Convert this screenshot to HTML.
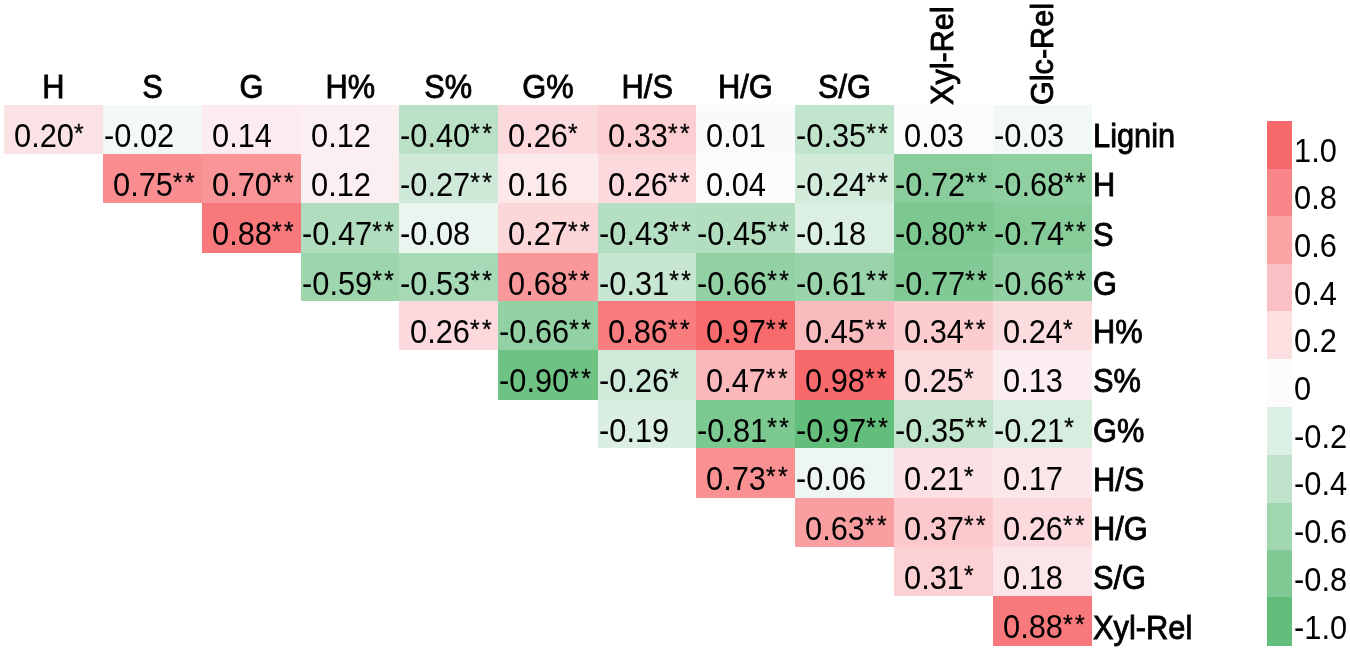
<!DOCTYPE html>
<html><head><meta charset="utf-8"><style>
html,body{margin:0;padding:0;background:#fff;}
body{width:1350px;height:650px;position:relative;overflow:hidden;font-family:"Liberation Sans",Arial,sans-serif;color:#000;}
.c{position:absolute;}
.t{position:absolute;font-size:32.50px;line-height:1;white-space:pre;transform-origin:0 0;transform:scaleX(0.9477);}
.a{font-size:0.8em;letter-spacing:2.53px;position:relative;top:-5.4px;-webkit-text-stroke:0.35px #000;}
.lb{position:absolute;font-size:32.50px;line-height:1;white-space:pre;-webkit-text-stroke:0.85px #000;transform-origin:0 0;transform:scaleX(0.9477);}
.rot{position:absolute;font-size:31.00px;line-height:1;white-space:pre;transform-origin:0 0;transform:rotate(-90deg) scaleX(0.9871);-webkit-text-stroke:0.85px #000;}
</style></head><body>

<div class="c" style="left:4.00px;top:105.00px;width:99.00px;height:49.00px;background:rgb(251,226,229)"></div>
<div class="c" style="left:103.00px;top:105.00px;width:99.00px;height:49.00px;background:rgb(244,249,248)"></div>
<div class="c" style="left:202.00px;top:105.00px;width:99.00px;height:49.00px;background:rgb(252,236,239)"></div>
<div class="c" style="left:301.00px;top:105.00px;width:98.00px;height:49.00px;background:rgb(252,239,242)"></div>
<div class="c" style="left:399.00px;top:105.00px;width:99.00px;height:49.00px;background:rgb(186,225,198)"></div>
<div class="c" style="left:498.00px;top:105.00px;width:100.00px;height:49.00px;background:rgb(251,217,220)"></div>
<div class="c" style="left:598.00px;top:105.00px;width:98.00px;height:49.00px;background:rgb(251,206,209)"></div>
<div class="c" style="left:696.00px;top:105.00px;width:99.00px;height:49.00px;background:rgb(248,250,252)"></div>
<div class="c" style="left:795.00px;top:105.00px;width:99.00px;height:49.00px;background:rgb(193,228,204)"></div>
<div class="c" style="left:894.00px;top:105.00px;width:99.00px;height:49.00px;background:rgb(251,252,254)"></div>
<div class="c" style="left:993.00px;top:105.00px;width:99.00px;height:49.00px;background:rgb(242,248,246)"></div>
<div class="c" style="left:103.00px;top:154.00px;width:99.00px;height:49.00px;background:rgb(249,141,143)"></div>
<div class="c" style="left:202.00px;top:154.00px;width:99.00px;height:49.00px;background:rgb(249,149,151)"></div>
<div class="c" style="left:301.00px;top:154.00px;width:98.00px;height:49.00px;background:rgb(252,239,242)"></div>
<div class="c" style="left:399.00px;top:154.00px;width:99.00px;height:49.00px;background:rgb(206,233,215)"></div>
<div class="c" style="left:498.00px;top:154.00px;width:100.00px;height:49.00px;background:rgb(251,233,235)"></div>
<div class="c" style="left:598.00px;top:154.00px;width:98.00px;height:49.00px;background:rgb(251,217,220)"></div>
<div class="c" style="left:696.00px;top:154.00px;width:99.00px;height:49.00px;background:rgb(252,251,254)"></div>
<div class="c" style="left:795.00px;top:154.00px;width:99.00px;height:49.00px;background:rgb(210,235,219)"></div>
<div class="c" style="left:894.00px;top:154.00px;width:99.00px;height:49.00px;background:rgb(137,205,156)"></div>
<div class="c" style="left:993.00px;top:154.00px;width:99.00px;height:49.00px;background:rgb(143,208,161)"></div>
<div class="c" style="left:202.00px;top:203.00px;width:99.00px;height:50.00px;background:rgb(248,121,123)"></div>
<div class="c" style="left:301.00px;top:203.00px;width:98.00px;height:50.00px;background:rgb(175,221,189)"></div>
<div class="c" style="left:399.00px;top:203.00px;width:99.00px;height:50.00px;background:rgb(234,245,240)"></div>
<div class="c" style="left:498.00px;top:203.00px;width:100.00px;height:50.00px;background:rgb(251,215,218)"></div>
<div class="c" style="left:598.00px;top:203.00px;width:98.00px;height:50.00px;background:rgb(181,223,194)"></div>
<div class="c" style="left:696.00px;top:203.00px;width:99.00px;height:50.00px;background:rgb(178,222,191)"></div>
<div class="c" style="left:795.00px;top:203.00px;width:99.00px;height:50.00px;background:rgb(219,239,227)"></div>
<div class="c" style="left:894.00px;top:203.00px;width:99.00px;height:50.00px;background:rgb(125,200,145)"></div>
<div class="c" style="left:993.00px;top:203.00px;width:99.00px;height:50.00px;background:rgb(134,204,153)"></div>
<div class="c" style="left:301.00px;top:253.00px;width:98.00px;height:48.00px;background:rgb(157,213,173)"></div>
<div class="c" style="left:399.00px;top:253.00px;width:99.00px;height:48.00px;background:rgb(166,217,181)"></div>
<div class="c" style="left:498.00px;top:253.00px;width:100.00px;height:48.00px;background:rgb(249,152,154)"></div>
<div class="c" style="left:598.00px;top:253.00px;width:98.00px;height:48.00px;background:rgb(199,231,210)"></div>
<div class="c" style="left:696.00px;top:253.00px;width:99.00px;height:48.00px;background:rgb(146,209,164)"></div>
<div class="c" style="left:795.00px;top:253.00px;width:99.00px;height:48.00px;background:rgb(154,212,170)"></div>
<div class="c" style="left:894.00px;top:253.00px;width:99.00px;height:48.00px;background:rgb(129,202,149)"></div>
<div class="c" style="left:993.00px;top:253.00px;width:99.00px;height:48.00px;background:rgb(146,209,164)"></div>
<div class="c" style="left:399.00px;top:301.00px;width:99.00px;height:49.00px;background:rgb(251,217,220)"></div>
<div class="c" style="left:498.00px;top:301.00px;width:100.00px;height:49.00px;background:rgb(146,209,164)"></div>
<div class="c" style="left:598.00px;top:301.00px;width:98.00px;height:49.00px;background:rgb(249,124,126)"></div>
<div class="c" style="left:696.00px;top:301.00px;width:99.00px;height:49.00px;background:rgb(248,107,109)"></div>
<div class="c" style="left:795.00px;top:301.00px;width:99.00px;height:49.00px;background:rgb(250,187,190)"></div>
<div class="c" style="left:894.00px;top:301.00px;width:99.00px;height:49.00px;background:rgb(251,205,207)"></div>
<div class="c" style="left:993.00px;top:301.00px;width:99.00px;height:49.00px;background:rgb(251,220,223)"></div>
<div class="c" style="left:498.00px;top:350.00px;width:100.00px;height:50.00px;background:rgb(110,194,132)"></div>
<div class="c" style="left:598.00px;top:350.00px;width:98.00px;height:50.00px;background:rgb(207,234,216)"></div>
<div class="c" style="left:696.00px;top:350.00px;width:99.00px;height:50.00px;background:rgb(250,184,187)"></div>
<div class="c" style="left:795.00px;top:350.00px;width:99.00px;height:50.00px;background:rgb(248,105,107)"></div>
<div class="c" style="left:894.00px;top:350.00px;width:99.00px;height:50.00px;background:rgb(251,219,221)"></div>
<div class="c" style="left:993.00px;top:350.00px;width:99.00px;height:50.00px;background:rgb(252,237,240)"></div>
<div class="c" style="left:598.00px;top:400.00px;width:98.00px;height:48.00px;background:rgb(218,238,225)"></div>
<div class="c" style="left:696.00px;top:400.00px;width:99.00px;height:48.00px;background:rgb(123,200,144)"></div>
<div class="c" style="left:795.00px;top:400.00px;width:99.00px;height:48.00px;background:rgb(99,190,123)"></div>
<div class="c" style="left:894.00px;top:400.00px;width:99.00px;height:48.00px;background:rgb(193,228,204)"></div>
<div class="c" style="left:993.00px;top:400.00px;width:99.00px;height:48.00px;background:rgb(215,237,223)"></div>
<div class="c" style="left:696.00px;top:448.00px;width:99.00px;height:50.00px;background:rgb(249,144,146)"></div>
<div class="c" style="left:795.00px;top:448.00px;width:99.00px;height:50.00px;background:rgb(238,246,243)"></div>
<div class="c" style="left:894.00px;top:448.00px;width:99.00px;height:50.00px;background:rgb(251,225,228)"></div>
<div class="c" style="left:993.00px;top:448.00px;width:99.00px;height:50.00px;background:rgb(251,231,234)"></div>
<div class="c" style="left:795.00px;top:498.00px;width:99.00px;height:49.00px;background:rgb(249,159,162)"></div>
<div class="c" style="left:894.00px;top:498.00px;width:99.00px;height:49.00px;background:rgb(251,200,203)"></div>
<div class="c" style="left:993.00px;top:498.00px;width:99.00px;height:49.00px;background:rgb(251,217,220)"></div>
<div class="c" style="left:894.00px;top:547.00px;width:99.00px;height:49.00px;background:rgb(251,209,212)"></div>
<div class="c" style="left:993.00px;top:547.00px;width:99.00px;height:49.00px;background:rgb(251,229,232)"></div>
<div class="c" style="left:993.00px;top:596.00px;width:99.00px;height:50.00px;background:rgb(248,121,123)"></div>
<div class="t" style="left:14.40px;top:120.14px">0.20<span class="a">*</span></div>
<div class="t" style="left:103.90px;top:120.14px">-0.02</div>
<div class="t" style="left:212.15px;top:120.14px">0.14</div>
<div class="t" style="left:311.05px;top:120.14px">0.12</div>
<div class="t" style="left:400.45px;top:120.14px">-0.40<span class="a">**</span></div>
<div class="t" style="left:508.05px;top:120.14px">0.26<span class="a">*</span></div>
<div class="t" style="left:607.80px;top:120.14px">0.33<span class="a">**</span></div>
<div class="t" style="left:706.35px;top:120.14px">0.01</div>
<div class="t" style="left:796.05px;top:120.14px">-0.35<span class="a">**</span></div>
<div class="t" style="left:904.25px;top:120.14px">0.03</div>
<div class="t" style="left:993.95px;top:120.14px">-0.03</div>
<div class="t" style="left:113.10px;top:169.09px">0.75<span class="a">**</span></div>
<div class="t" style="left:212.15px;top:169.09px">0.70<span class="a">**</span></div>
<div class="t" style="left:311.05px;top:169.09px">0.12</div>
<div class="t" style="left:400.45px;top:169.09px">-0.27<span class="a">**</span></div>
<div class="t" style="left:508.05px;top:169.09px">0.16</div>
<div class="t" style="left:607.80px;top:169.09px">0.26<span class="a">**</span></div>
<div class="t" style="left:706.35px;top:169.09px">0.04</div>
<div class="t" style="left:796.05px;top:169.09px">-0.24<span class="a">**</span></div>
<div class="t" style="left:895.05px;top:169.09px">-0.72<span class="a">**</span></div>
<div class="t" style="left:993.95px;top:169.09px">-0.68<span class="a">**</span></div>
<div class="t" style="left:212.15px;top:218.39px">0.88<span class="a">**</span></div>
<div class="t" style="left:301.85px;top:218.39px">-0.47<span class="a">**</span></div>
<div class="t" style="left:400.45px;top:218.39px">-0.08</div>
<div class="t" style="left:508.05px;top:218.39px">0.27<span class="a">**</span></div>
<div class="t" style="left:598.60px;top:218.39px">-0.43<span class="a">**</span></div>
<div class="t" style="left:697.15px;top:218.39px">-0.45<span class="a">**</span></div>
<div class="t" style="left:796.05px;top:218.39px">-0.18</div>
<div class="t" style="left:895.05px;top:218.39px">-0.80<span class="a">**</span></div>
<div class="t" style="left:993.95px;top:218.39px">-0.74<span class="a">**</span></div>
<div class="t" style="left:301.85px;top:267.59px">-0.59<span class="a">**</span></div>
<div class="t" style="left:400.45px;top:267.59px">-0.53<span class="a">**</span></div>
<div class="t" style="left:508.05px;top:267.59px">0.68<span class="a">**</span></div>
<div class="t" style="left:598.60px;top:267.59px">-0.31<span class="a">**</span></div>
<div class="t" style="left:697.15px;top:267.59px">-0.66<span class="a">**</span></div>
<div class="t" style="left:796.05px;top:267.59px">-0.61<span class="a">**</span></div>
<div class="t" style="left:895.05px;top:267.59px">-0.77<span class="a">**</span></div>
<div class="t" style="left:993.95px;top:267.59px">-0.66<span class="a">**</span></div>
<div class="t" style="left:409.65px;top:316.19px">0.26<span class="a">**</span></div>
<div class="t" style="left:498.85px;top:316.19px">-0.66<span class="a">**</span></div>
<div class="t" style="left:607.80px;top:316.19px">0.86<span class="a">**</span></div>
<div class="t" style="left:706.35px;top:316.19px">0.97<span class="a">**</span></div>
<div class="t" style="left:805.25px;top:316.19px">0.45<span class="a">**</span></div>
<div class="t" style="left:904.25px;top:316.19px">0.34<span class="a">**</span></div>
<div class="t" style="left:1003.15px;top:316.19px">0.24<span class="a">*</span></div>
<div class="t" style="left:498.85px;top:365.14px">-0.90<span class="a">**</span></div>
<div class="t" style="left:598.60px;top:365.14px">-0.26<span class="a">*</span></div>
<div class="t" style="left:706.35px;top:365.14px">0.47<span class="a">**</span></div>
<div class="t" style="left:805.25px;top:365.14px">0.98<span class="a">**</span></div>
<div class="t" style="left:904.25px;top:365.14px">0.25<span class="a">*</span></div>
<div class="t" style="left:1003.15px;top:365.14px">0.13</div>
<div class="t" style="left:598.60px;top:414.69px">-0.19</div>
<div class="t" style="left:697.15px;top:414.69px">-0.81<span class="a">**</span></div>
<div class="t" style="left:796.05px;top:414.69px">-0.97<span class="a">**</span></div>
<div class="t" style="left:895.05px;top:414.69px">-0.35<span class="a">**</span></div>
<div class="t" style="left:993.95px;top:414.69px">-0.21<span class="a">*</span></div>
<div class="t" style="left:706.35px;top:463.29px">0.73<span class="a">**</span></div>
<div class="t" style="left:796.05px;top:463.29px">-0.06</div>
<div class="t" style="left:904.25px;top:463.29px">0.21<span class="a">*</span></div>
<div class="t" style="left:1003.15px;top:463.29px">0.17</div>
<div class="t" style="left:805.25px;top:512.84px">0.63<span class="a">**</span></div>
<div class="t" style="left:904.25px;top:512.84px">0.37<span class="a">**</span></div>
<div class="t" style="left:1003.15px;top:512.84px">0.26<span class="a">**</span></div>
<div class="t" style="left:904.25px;top:562.09px">0.31<span class="a">*</span></div>
<div class="t" style="left:1003.15px;top:562.09px">0.18</div>
<div class="t" style="left:1003.15px;top:611.29px">0.88<span class="a">**</span></div>
<div class="lb" style="left:4.15px;top:70.79px;width:104.15px;text-align:center">H</div>
<div class="lb" style="left:102.85px;top:70.79px;width:104.52px;text-align:center">S</div>
<div class="lb" style="left:201.90px;top:70.79px;width:104.36px;text-align:center">G</div>
<div class="lb" style="left:300.80px;top:70.79px;width:104.04px;text-align:center">H%</div>
<div class="lb" style="left:399.40px;top:70.79px;width:103.83px;text-align:center">S%</div>
<div class="lb" style="left:497.80px;top:70.79px;width:105.26px;text-align:center">G%</div>
<div class="lb" style="left:597.55px;top:70.79px;width:103.99px;text-align:center">H/S</div>
<div class="lb" style="left:696.10px;top:70.79px;width:104.36px;text-align:center">H/G</div>
<div class="lb" style="left:795.00px;top:70.79px;width:104.46px;text-align:center">S/G</div>
<div class="rot" style="left:927.34px;top:104.50px">Xyl-Rel</div>
<div class="rot" style="left:1027.14px;top:104.50px">Glc-Rel</div>
<div class="lb" style="left:1093.00px;top:120.44px">Lignin</div>
<div class="lb" style="left:1093.00px;top:169.39px">H</div>
<div class="lb" style="left:1093.00px;top:218.69px">S</div>
<div class="lb" style="left:1093.00px;top:267.89px">G</div>
<div class="lb" style="left:1093.00px;top:316.49px">H%</div>
<div class="lb" style="left:1093.00px;top:365.44px">S%</div>
<div class="lb" style="left:1093.00px;top:414.99px">G%</div>
<div class="lb" style="left:1093.00px;top:463.59px">H/S</div>
<div class="lb" style="left:1093.00px;top:513.14px">H/G</div>
<div class="lb" style="left:1093.00px;top:562.39px">S/G</div>
<div class="lb" style="left:1093.00px;top:611.59px">Xyl-Rel</div>
<div class="c" style="left:1267px;top:121px;width:25px;height:48px;background:rgb(248,105,107)"></div>
<div class="t" style="left:1294.00px;top:134.69px">1.0</div>
<div class="c" style="left:1267px;top:169px;width:25px;height:47px;background:rgb(249,134,137)"></div>
<div class="t" style="left:1294.00px;top:182.37px">0.8</div>
<div class="c" style="left:1267px;top:216px;width:25px;height:48px;background:rgb(250,164,166)"></div>
<div class="t" style="left:1294.00px;top:230.05px">0.6</div>
<div class="c" style="left:1267px;top:264px;width:25px;height:47px;background:rgb(250,193,196)"></div>
<div class="t" style="left:1294.00px;top:277.73px">0.4</div>
<div class="c" style="left:1267px;top:311px;width:25px;height:48px;background:rgb(251,223,225)"></div>
<div class="t" style="left:1294.00px;top:325.42px">0.2</div>
<div class="c" style="left:1267px;top:359px;width:25px;height:48px;background:rgb(252,252,255)"></div>
<div class="t" style="left:1294.00px;top:373.10px">0</div>
<div class="c" style="left:1267px;top:407px;width:25px;height:48px;background:rgb(221,240,229)"></div>
<div class="t" style="left:1294.00px;top:420.78px">-0.2</div>
<div class="c" style="left:1267px;top:455px;width:25px;height:48px;background:rgb(191,227,202)"></div>
<div class="t" style="left:1294.00px;top:468.46px">-0.4</div>
<div class="c" style="left:1267px;top:503px;width:25px;height:47px;background:rgb(160,215,176)"></div>
<div class="t" style="left:1294.00px;top:516.14px">-0.6</div>
<div class="c" style="left:1267px;top:550px;width:25px;height:47px;background:rgb(130,202,149)"></div>
<div class="t" style="left:1294.00px;top:563.83px">-0.8</div>
<div class="c" style="left:1267px;top:597px;width:25px;height:49px;background:rgb(99,190,123)"></div>
<div class="t" style="left:1294.00px;top:611.51px">-1.0</div>
</body></html>
